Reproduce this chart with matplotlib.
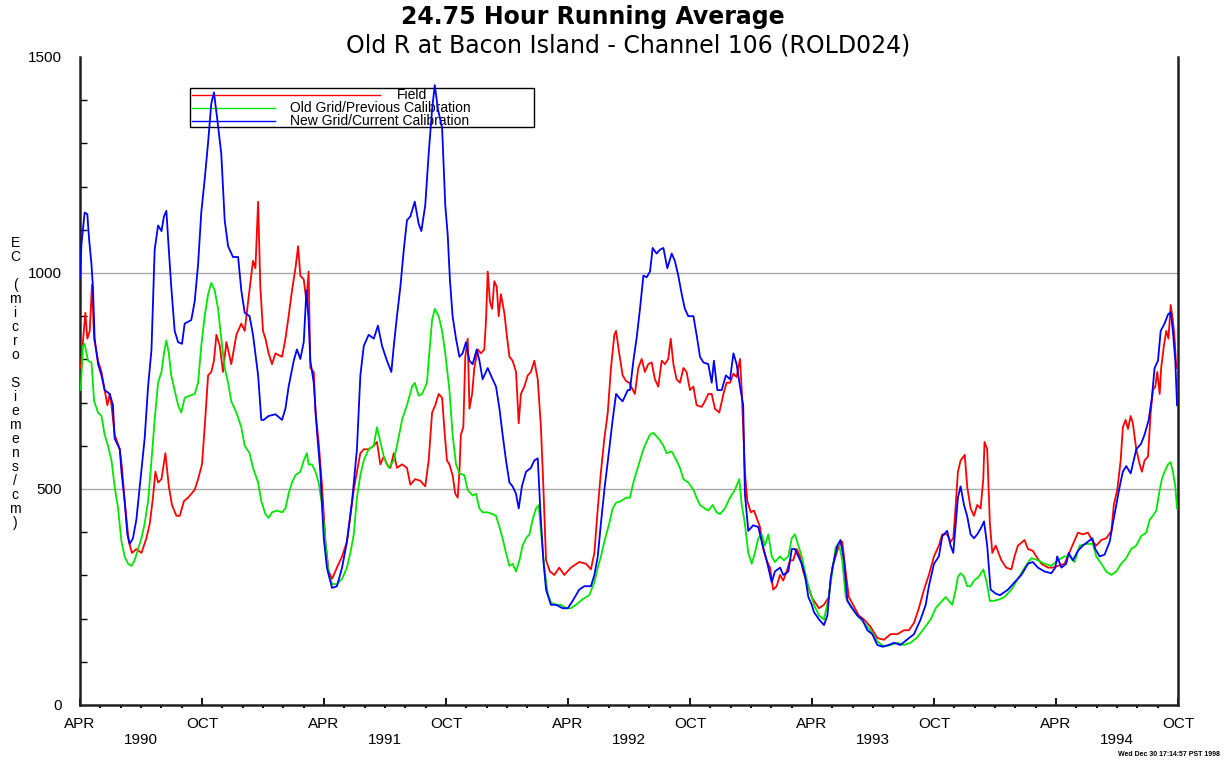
import numpy as np
import matplotlib
matplotlib.use('Agg')
import matplotlib.pyplot as plt
from matplotlib.patches import Rectangle
from matplotlib.lines import Line2D
from matplotlib.ticker import FixedLocator, MultipleLocator

# x values are decimal years (APR = .25, OCT = .75), y values are EC (micro Siemens/cm)
field_t = [
    1990.253, 1990.258, 1990.272, 1990.280, 1990.290, 1990.299, 1990.308, 1990.324, 1990.338, 1990.351,
    1990.362, 1990.372, 1990.379, 1990.392, 1990.413, 1990.422, 1990.433, 1990.450, 1990.463, 1990.481,
    1990.502, 1990.522, 1990.536, 1990.549, 1990.559, 1990.570, 1990.584, 1990.600, 1990.614, 1990.627,
    1990.645, 1990.659, 1990.676, 1990.693, 1990.720, 1990.734, 1990.750, 1990.761, 1990.775, 1990.788,
    1990.799, 1990.809, 1990.823, 1990.836, 1990.850, 1990.870, 1990.891, 1990.911, 1990.925, 1990.939,
    1990.959, 1990.969, 1990.980, 1990.989, 1991.000,
    1991.010, 1991.023, 1991.037, 1991.051, 1991.064, 1991.078, 1991.092, 1991.105, 1991.119, 1991.133,
    1991.144, 1991.153, 1991.167, 1991.178, 1991.187, 1991.194, 1991.208, 1991.215, 1991.228, 1991.242,
    1991.256, 1991.269, 1991.283, 1991.303, 1991.324, 1991.344, 1991.358, 1991.372, 1991.385, 1991.399,
    1991.413, 1991.433, 1991.454, 1991.467, 1991.481, 1991.495, 1991.508, 1991.522, 1991.536, 1991.549,
    1991.570, 1991.590, 1991.604, 1991.624, 1991.645, 1991.665, 1991.679, 1991.693, 1991.706, 1991.720,
    1991.734, 1991.745, 1991.754,
    1991.764, 1991.777, 1991.788, 1991.798, 1991.805, 1991.811, 1991.821, 1991.829, 1991.839, 1991.846,
    1991.857, 1991.866, 1991.880, 1991.893, 1991.907, 1991.914, 1991.921, 1991.930, 1991.939, 1991.948,
    1991.958, 1991.966, 1991.975, 1991.989, 1991.999, 1992.010, 1992.023, 1992.037, 1992.048, 1992.057,
    1992.071, 1992.085, 1992.098, 1992.112, 1992.126, 1992.139, 1992.149, 1992.160, 1992.176, 1992.194,
    1992.214, 1992.235, 1992.262, 1992.296, 1992.324, 1992.344, 1992.358, 1992.372, 1992.385, 1992.399,
    1992.413, 1992.426, 1992.440, 1992.447, 1992.460, 1992.474, 1992.488, 1992.501,
    1992.524, 1992.538, 1992.552, 1992.565, 1992.579, 1992.593, 1992.606, 1992.620, 1992.634, 1992.647,
    1992.661, 1992.671, 1992.682, 1992.695, 1992.709, 1992.723, 1992.736, 1992.750, 1992.764, 1992.777,
    1992.798, 1992.811, 1992.825, 1992.839, 1992.852, 1992.870, 1992.887, 1992.900, 1992.914, 1992.928,
    1992.941, 1992.955, 1992.962, 1992.968, 1992.975, 1992.985, 1992.999, 1993.012, 1993.026, 1993.037,
    1993.050, 1993.064, 1993.078, 1993.091, 1993.105, 1993.119, 1993.132, 1993.146, 1993.160, 1993.173,
    1993.187, 1993.201, 1993.214, 1993.228, 1993.249,
    1993.258, 1993.279, 1993.299, 1993.319, 1993.333, 1993.347, 1993.360, 1993.374, 1993.388, 1993.401,
    1993.422, 1993.442, 1993.463, 1993.490, 1993.518, 1993.545, 1993.572, 1993.600, 1993.627, 1993.647,
    1993.668, 1993.688, 1993.709, 1993.729, 1993.750, 1993.770, 1993.784, 1993.804, 1993.818, 1993.829,
    1993.839, 1993.848, 1993.859, 1993.876, 1993.886, 1993.900, 1993.914, 1993.927, 1993.941, 1993.952,
    1993.957, 1993.968, 1993.979, 1993.989, 1994.003,
    1994.026, 1994.046, 1994.067, 1994.080, 1994.094, 1994.121, 1994.135, 1994.155, 1994.169, 1994.190,
    1994.217, 1994.237, 1994.285, 1994.340, 1994.360, 1994.381, 1994.401, 1994.415, 1994.436, 1994.456,
    1994.477, 1994.487, 1994.501, 1994.515, 1994.524, 1994.535, 1994.545, 1994.556, 1994.565, 1994.579,
    1994.593, 1994.602, 1994.613, 1994.627, 1994.638, 1994.647, 1994.657, 1994.665, 1994.675, 1994.681,
    1994.692, 1994.702, 1994.711, 1994.720, 1994.729, 1994.736, 1994.743,
]
field_ec = [
    780, 814, 908, 848, 866, 973, 848, 797, 771, 729,
    694, 720, 694, 626, 592, 549, 472, 378, 352, 361,
    352, 386, 420, 480, 540, 515, 523, 583, 506, 463,
    438, 438, 472, 480, 498, 523, 557, 643, 763, 771,
    797, 857, 831, 771, 840, 789, 857, 883, 866, 934,
    1028, 1011, 1165, 968, 866,
    848, 814, 789, 814, 810, 806, 848, 900, 960, 1011,
    1062, 994, 985, 934, 1003, 780, 771, 677, 609, 506,
    378, 309, 292, 318, 344, 378, 438, 498, 540, 583,
    592, 592, 600, 609, 557, 575, 557, 549, 583, 549,
    557, 549, 510, 523, 519, 506, 566, 677, 694, 720,
    711, 626, 566,
    557, 532, 489, 480, 540, 626, 643, 806, 848, 686,
    720, 780, 823, 814, 823, 891, 1003, 934, 917, 981,
    968, 900, 951, 908, 857, 806, 797, 771, 652, 720,
    737, 763, 771, 797, 754, 643, 506, 335, 309, 301,
    318, 301, 318, 331, 327, 314, 352, 455, 540, 617,
    677, 780, 857, 866, 814, 763, 750, 746,
    720, 780, 801, 771, 789, 793, 754, 737, 797, 789,
    801, 848, 789, 754, 746, 780, 771, 729, 737, 694,
    690, 703, 720, 720, 686, 677, 720, 746, 746, 767,
    759, 801, 729, 643, 540, 472, 446, 450, 429, 412,
    361, 335, 318, 267, 275, 301, 288, 309, 335, 335,
    361, 344, 309, 284, 250,
    241, 224, 232, 250, 318, 344, 369, 378, 309, 250,
    228, 207, 198, 181, 155, 151, 164, 164, 173, 173,
    190, 224, 267, 301, 344, 369, 395, 395, 378, 386,
    463, 540, 566, 579, 506, 455, 438, 463, 455, 523,
    609, 592, 420, 352, 369,
    335, 318, 314, 344, 369, 382, 361, 357, 344, 327,
    318, 318, 327, 399, 395, 399, 378, 369, 382, 386,
    403, 463, 498, 566, 643, 660, 639, 669, 652, 592,
    557, 540, 566, 575, 677, 729, 737, 771, 720, 780,
    831, 866, 848, 926, 891, 848, 780,
]

old_t = [
    1990.253, 1990.262, 1990.269, 1990.283, 1990.297, 1990.308, 1990.324, 1990.338, 1990.351, 1990.365,
    1990.379, 1990.392, 1990.406, 1990.420, 1990.433, 1990.447, 1990.461, 1990.474, 1990.488, 1990.502,
    1990.515, 1990.529, 1990.543, 1990.556, 1990.570, 1990.584, 1990.594, 1990.604, 1990.614, 1990.624,
    1990.638, 1990.652, 1990.665, 1990.679, 1990.700, 1990.720, 1990.734, 1990.747, 1990.761, 1990.775,
    1990.788, 1990.802, 1990.816, 1990.829, 1990.843, 1990.857, 1990.870, 1990.891, 1990.911, 1990.925,
    1990.945, 1990.959, 1990.980, 1990.993,
    1991.010, 1991.023, 1991.037, 1991.057, 1991.078, 1991.092, 1991.105, 1991.119, 1991.133, 1991.153,
    1991.167, 1991.180, 1991.187, 1991.201, 1991.215, 1991.228, 1991.242, 1991.256, 1991.269, 1991.283,
    1991.303, 1991.324, 1991.344, 1991.358, 1991.372, 1991.385, 1991.399, 1991.413, 1991.433, 1991.454,
    1991.467, 1991.481, 1991.495, 1991.515, 1991.536, 1991.549, 1991.570, 1991.590, 1991.611, 1991.622,
    1991.638, 1991.652, 1991.672, 1991.679, 1991.693, 1991.704, 1991.720, 1991.734, 1991.747,
    1991.764, 1991.777, 1991.791, 1991.805, 1991.825, 1991.839, 1991.859, 1991.873, 1991.887, 1991.900,
    1991.921, 1991.941, 1991.955, 1991.969, 1991.982, 1991.996, 1992.010, 1992.023, 1992.037, 1992.051,
    1992.064, 1992.078, 1992.092, 1992.105, 1992.119, 1992.130, 1992.139, 1992.153, 1992.167, 1992.180,
    1992.201, 1992.221, 1992.242, 1992.262, 1992.283, 1992.310, 1992.337, 1992.358, 1992.372, 1992.385,
    1992.399, 1992.419, 1992.433, 1992.447, 1992.467, 1992.488,
    1992.504, 1992.518, 1992.531, 1992.545, 1992.559, 1992.572, 1992.586, 1992.600, 1992.613, 1992.627,
    1992.641, 1992.654, 1992.675, 1992.695, 1992.709, 1992.723, 1992.743, 1992.764, 1992.777, 1992.791,
    1992.811, 1992.825, 1992.843, 1992.859, 1992.873, 1992.893, 1992.914, 1992.934, 1992.952, 1992.962,
    1992.975, 1992.989, 1993.003, 1993.016, 1993.030, 1993.044, 1993.057, 1993.071, 1993.085, 1993.098,
    1993.119, 1993.135, 1993.153, 1993.167, 1993.180, 1993.194, 1993.208, 1993.221, 1993.235, 1993.249,
    1993.258, 1993.279, 1993.299, 1993.319, 1993.333, 1993.347, 1993.360, 1993.374, 1993.388, 1993.408,
    1993.436, 1993.463, 1993.490, 1993.518, 1993.545, 1993.572, 1993.600, 1993.627, 1993.654, 1993.682,
    1993.709, 1993.736, 1993.757, 1993.777, 1993.798, 1993.811, 1993.825, 1993.839, 1993.848, 1993.859,
    1993.873, 1993.886, 1993.900, 1993.914, 1993.934, 1993.952, 1993.966, 1993.979, 1993.996, 1994.020,
    1994.039, 1994.067, 1994.094, 1994.121, 1994.149, 1994.176, 1994.203, 1994.231, 1994.258, 1994.285,
    1994.306, 1994.326, 1994.347, 1994.374, 1994.401, 1994.415, 1994.436, 1994.456, 1994.477, 1994.497,
    1994.517, 1994.538, 1994.558, 1994.579, 1994.599, 1994.620, 1994.634, 1994.647, 1994.661, 1994.675,
    1994.684, 1994.695, 1994.709, 1994.720, 1994.729, 1994.739, 1994.746,
]
old_ec = [
    729, 831, 836, 797, 793, 703, 677, 669, 626, 600,
    566, 506, 455, 378, 344, 327, 322, 335, 361, 386,
    420, 472, 566, 660, 746, 771, 814, 844, 814, 763,
    729, 694, 677, 711, 716, 720, 746, 831, 900, 951,
    977, 960, 917, 848, 780, 746, 703, 677, 643, 600,
    583, 549, 515, 472,
    442, 433, 446, 450, 446, 455, 489, 515, 532, 540,
    566, 583, 557, 557, 540, 515, 463, 378, 301, 280,
    280, 292, 318, 352, 395, 480, 532, 566, 592, 600,
    643, 609, 575, 549, 566, 600, 660, 694, 737, 746,
    716, 720, 746, 797, 891, 917, 900, 866, 814,
    729, 626, 557, 536, 532, 498, 485, 489, 455, 446,
    446, 442, 438, 412, 386, 352, 322, 327, 309, 335,
    369, 386, 395, 429, 455, 463, 403, 318, 258, 237,
    232, 232, 224, 224, 232, 245, 254, 284, 318, 344,
    378, 420, 455, 468, 472, 480,
    480, 515, 540, 566, 592, 609, 626, 630, 622, 613,
    600, 583, 587, 566, 549, 523, 515, 498, 480, 463,
    455, 450, 463, 446, 442, 455, 480, 498, 523, 463,
    420, 352, 327, 352, 386, 395, 369, 395, 344, 331,
    344, 335, 344, 386, 395, 369, 344, 309, 275, 250,
    232, 207, 198, 250, 309, 365, 373, 335, 250, 228,
    207, 190, 173, 147, 135, 139, 144, 139, 144, 157,
    177, 198, 224, 237, 250, 241, 232, 267, 297, 305,
    297, 275, 275, 288, 297, 314, 284, 241, 241, 245,
    250, 267, 292, 318, 340, 335, 327, 322, 335, 344,
    344, 331, 369, 373, 373, 344, 327, 309, 301, 309,
    327, 340, 361, 369, 391, 399, 429, 438, 450, 498,
    523, 540, 557, 562, 540, 506, 455,
]

new_t = [
    1990.250, 1990.256, 1990.269, 1990.280, 1990.287, 1990.297, 1990.303, 1990.310, 1990.324, 1990.338,
    1990.351, 1990.372, 1990.385, 1990.392, 1990.413, 1990.420, 1990.433, 1990.444, 1990.454, 1990.467,
    1990.481, 1990.495, 1990.515, 1990.529, 1990.543, 1990.556, 1990.570, 1990.584, 1990.594, 1990.604,
    1990.611, 1990.624, 1990.638, 1990.652, 1990.668, 1990.679, 1990.706, 1990.720, 1990.734, 1990.747,
    1990.761, 1990.775, 1990.788, 1990.799, 1990.813, 1990.829, 1990.843, 1990.857, 1990.877, 1990.898,
    1990.911, 1990.925, 1990.945, 1990.959, 1990.980, 1990.993,
    1991.003, 1991.023, 1991.051, 1991.078, 1991.092, 1991.105, 1991.126, 1991.139, 1991.153, 1991.167,
    1991.178, 1991.187, 1991.194, 1991.208, 1991.221, 1991.235, 1991.249, 1991.262, 1991.283, 1991.303,
    1991.324, 1991.344, 1991.365, 1991.385, 1991.399, 1991.413, 1991.433, 1991.454, 1991.471, 1991.488,
    1991.508, 1991.526, 1991.536, 1991.549, 1991.563, 1991.577, 1991.590, 1991.604, 1991.622, 1991.638,
    1991.649, 1991.665, 1991.679, 1991.693, 1991.704, 1991.717, 1991.734, 1991.747,
    1991.757, 1991.766, 1991.777, 1991.791, 1991.805, 1991.818, 1991.832, 1991.846, 1991.859, 1991.876,
    1991.887, 1991.900, 1991.921, 1991.934, 1991.955, 1991.969, 1991.982, 1991.996, 1992.010, 1992.023,
    1992.037, 1992.048, 1992.061, 1992.078, 1992.098, 1992.112, 1992.126, 1992.137, 1992.149, 1992.160,
    1992.180, 1992.201, 1992.228, 1992.249, 1992.269, 1992.296, 1992.317, 1992.344, 1992.358, 1992.372,
    1992.385, 1992.399, 1992.419, 1992.433, 1992.447, 1992.460, 1992.474, 1992.495,
    1992.504, 1992.518, 1992.531, 1992.545, 1992.559, 1992.572, 1992.586, 1992.597, 1992.613, 1992.627,
    1992.641, 1992.657, 1992.675, 1992.688, 1992.702, 1992.716, 1992.729, 1992.743, 1992.764, 1992.777,
    1992.791, 1992.805, 1992.825, 1992.839, 1992.848, 1992.862, 1992.880, 1992.897, 1992.914, 1992.928,
    1992.941, 1992.955, 1992.968, 1992.975, 1992.989, 1993.009, 1993.030, 1993.044, 1993.064, 1993.085,
    1993.098, 1993.119, 1993.132, 1993.153, 1993.167, 1993.180, 1993.194, 1993.208, 1993.221, 1993.235,
    1993.249,
    1993.258, 1993.279, 1993.299, 1993.313, 1993.326, 1993.340, 1993.354, 1993.367, 1993.381, 1993.395,
    1993.415, 1993.436, 1993.456, 1993.477, 1993.497, 1993.518, 1993.538, 1993.565, 1993.586, 1993.613,
    1993.641, 1993.668, 1993.695, 1993.716, 1993.729, 1993.750, 1993.770, 1993.784, 1993.804, 1993.818,
    1993.829, 1993.839, 1993.848, 1993.859, 1993.873, 1993.886, 1993.900, 1993.914, 1993.927, 1993.941,
    1993.955, 1993.968, 1993.982, 1994.003, 1994.020,
    1994.053, 1994.080, 1994.108, 1994.135, 1994.155, 1994.176, 1994.203, 1994.231, 1994.247, 1994.255,
    1994.272, 1994.292, 1994.302, 1994.319, 1994.340, 1994.360, 1994.381, 1994.399, 1994.411, 1994.429,
    1994.449, 1994.470, 1994.483, 1994.497, 1994.511, 1994.524, 1994.538, 1994.556, 1994.565, 1994.579,
    1994.599, 1994.613, 1994.630, 1994.643, 1994.654, 1994.668, 1994.679, 1994.695, 1994.709, 1994.720,
    1994.729, 1994.739, 1994.746,
]
new_ec = [
    990, 1067, 1140, 1136, 1080, 1020, 968, 848, 789, 763,
    729, 720, 694, 617, 592, 540, 472, 395, 373, 386,
    429, 506, 617, 737, 823, 1054, 1110, 1097, 1131, 1144,
    1080, 968, 866, 840, 836, 883, 891, 934, 1020, 1140,
    1217, 1302, 1392, 1418, 1354, 1276, 1122, 1062, 1037, 1037,
    960, 908, 900, 857, 763, 660,
    660, 669, 673, 660, 686, 737, 797, 823, 801, 840,
    960, 891, 797, 746, 634, 540, 386, 318, 271, 275,
    318, 378, 472, 592, 763, 831, 857, 848, 878, 831,
    797, 771, 831, 900, 968, 1054, 1122, 1131, 1165, 1114,
    1097, 1157, 1276, 1379, 1435, 1379, 1336, 1157,
    1088, 985, 900, 848, 806, 814, 840, 797, 789, 823,
    797, 754, 780, 763, 737, 686, 626, 566, 515, 506,
    489, 455, 506, 540, 549, 566, 571, 446, 335, 267,
    232, 232, 224, 224, 241, 267, 275, 275, 301, 344,
    421, 498, 592, 660, 720, 711, 703, 729,
    729, 797, 848, 917, 994, 990, 1003, 1058, 1045, 1054,
    1058, 1011, 1045, 1028, 994, 951, 917, 900, 900, 857,
    806, 793, 789, 746, 797, 729, 729, 763, 754, 814,
    789, 737, 694, 489, 403, 416, 412, 378, 335, 284,
    309, 318, 301, 309, 361, 361, 344, 327, 301, 250,
    232,
    215, 198, 185, 207, 292, 335, 369, 382, 335, 241,
    224, 207, 198, 173, 164, 139, 135, 139, 144, 139,
    152, 164, 198, 232, 275, 327, 344, 391, 403, 369,
    352, 420, 480, 506, 463, 437, 395, 386, 395, 408,
    425, 369, 267, 258, 254,
    267, 284, 301, 327, 331, 318, 309, 305, 318, 344,
    318, 327, 352, 335, 357, 369, 378, 386, 361, 344,
    348, 378, 420, 463, 506, 540, 553, 536, 558, 592,
    605, 626, 660, 711, 780, 797, 866, 883, 904, 909,
    866, 797, 694,
]

series_labels = ['Field', 'Old Grid/Previous Calibration', 'New Grid/Current Calibration']
series_colors = ['#ff0000', '#00e600', '#0000ff']

major_ticks = [1990.25, 1990.75, 1991.25, 1991.75, 1992.25, 1992.75, 1993.25, 1993.75, 1994.25, 1994.75]
major_labels = ['APR', 'OCT', 'APR', 'OCT', 'APR', 'OCT', 'APR', 'OCT', 'APR', 'OCT']
years = [1990, 1991, 1992, 1993, 1994]

plt.rcParams['font.family'] = ['Liberation Sans', 'DejaVu Sans']

fig = plt.figure(figsize=(12.27, 7.65), dpi=100)
ax = fig.add_axes([80 / 1227, 1 - 705 / 765, 1098 / 1227, 648 / 765])

for t, v, c in zip([field_t, old_t, new_t], [field_ec, old_ec, new_ec], series_colors):
    ax.plot(t, v, color=c, lw=1.3, zorder=3)

ax.set_xlim(1990.25, 1994.75)
ax.set_ylim(0, 1500)

for yv in [500, 1000]:
    ax.axhline(yv, color='#a8a8a8', lw=1.0, zorder=0.5)

ax.xaxis.set_major_locator(FixedLocator(major_ticks))
ax.set_xticklabels(major_labels, fontsize=11)
ax.xaxis.set_minor_locator(FixedLocator(np.arange(1990.25, 1994.76, 1 / 12)))
ax.tick_params(axis='x', which='major', direction='in', length=5, width=1.3, pad=9)
ax.tick_params(axis='x', which='minor', direction='out', length=2, width=1.5)

ax.yaxis.set_major_locator(FixedLocator([0, 500, 1000, 1500]))
ax.yaxis.set_minor_locator(MultipleLocator(100))
ax.tick_params(axis='y', which='major', length=0, pad=13, labelsize=11)
ax.tick_params(axis='y', which='minor', direction='in', length=5, width=1.0)

for y in years:
    ax.text(y + 0.5, -0.054, str(y), transform=ax.get_xaxis_transform(),
            ha='center', va='center', fontsize=11)

ax.spines['top'].set_visible(False)
for s in ['left', 'bottom', 'right']:
    ax.spines[s].set_linewidth(1.8)
    ax.spines[s].set_color('#202020')

# legend box drawn by hand, as in the original
ax.add_patch(Rectangle((0.1002, 0.8920), 0.3133, 0.0600, transform=ax.transAxes,
                       fill=False, edgecolor='black', lw=1.0, zorder=1))
leg_y = [0.9410, 0.9215, 0.9020]
leg_end = [0.2732, 0.1776, 0.1776]
for i in range(3):
    ax.add_line(Line2D([0.102, leg_end[i]], [leg_y[i], leg_y[i]], transform=ax.transAxes,
                       color=series_colors[i], lw=1.0, zorder=1))
ax.text(0.3024, leg_y[0], series_labels[0], transform=ax.transAxes, ha='center', va='center',
        fontsize=10, zorder=1)
for i in [1, 2]:
    ax.text(0.1913, leg_y[i], series_labels[i], transform=ax.transAxes, ha='left', va='center',
            fontsize=10, zorder=1)

fig.text(593 / 1227, 1 - 17 / 765, '24.75 Hour Running Average', ha='center', va='center',
         fontsize=17, fontweight='bold', family=['DejaVu Sans'])
fig.text(628 / 1227, 1 - 46 / 765, 'Old R at Bacon Island - Channel 106 (ROLD024)', ha='center',
         va='center', fontsize=17, family=['DejaVu Sans'])

ylab = 'EC (micro Siemens/cm)'
fig.text(15 / 1227, 1 - 383 / 765, '\n'.join(ylab), ha='center', va='center', fontsize=10,
         linespacing=1.0)

fig.text(1220 / 1227, 1 - 755 / 765, 'Wed Dec 30 17:14:57 PST 1998', ha='right', va='center',
         fontsize=5, fontweight='bold')

fig.savefig('out.png', dpi=100)
